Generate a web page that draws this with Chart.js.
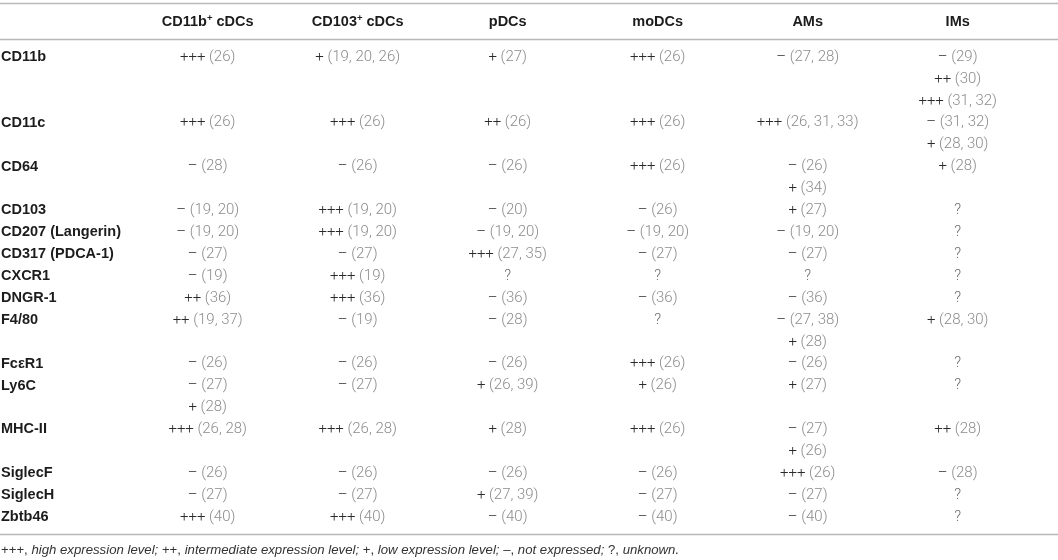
<!DOCTYPE html>
<html>
<head>
<meta charset="utf-8">
<script src="https://cdn.jsdelivr.net/npm/chart.js@4.4.1/dist/chart.umd.min.js"></script>
<style>
html,body{margin:0;padding:0;background:#ffffff;}
#wrap{width:1058px;height:560px;position:relative;}
</style>
</head>
<body>
<div id="wrap"><canvas id="c"></canvas></div>
<script>
// ---- data ----
const cellTypes = ["CD11b⁺ cDCs", "CD103⁺ cDCs", "pDCs", "moDCs", "AMs", "IMs"];
const markers = ["CD11b", "CD11c", "CD64", "CD103", "CD207 (Langerin)", "CD317 (PDCA-1)", "CXCR1", "DNGR-1", "F4/80", "FcεR1", "Ly6C", "MHC-II", "SiglecF", "SiglecH", "Zbtb46"];

const cd11bCDCs = [["+++ (26)"], ["+++ (26)"], ["– (28)"], ["– (19, 20)"], ["– (19, 20)"], ["– (27)"], ["– (19)"], ["++ (36)"], ["++ (19, 37)"], ["– (26)"], ["– (27)", "+ (28)"], ["+++ (26, 28)"], ["– (26)"], ["– (27)"], ["+++ (40)"]];
const cd103CDCs = [["+ (19, 20, 26)"], ["+++ (26)"], ["– (26)"], ["+++ (19, 20)"], ["+++ (19, 20)"], ["– (27)"], ["+++ (19)"], ["+++ (36)"], ["– (19)"], ["– (26)"], ["– (27)"], ["+++ (26, 28)"], ["– (26)"], ["– (27)"], ["+++ (40)"]];
const pDCs = [["+ (27)"], ["++ (26)"], ["– (26)"], ["– (20)"], ["– (19, 20)"], ["+++ (27, 35)"], ["?"], ["– (36)"], ["– (28)"], ["– (26)"], ["+ (26, 39)"], ["+ (28)"], ["– (26)"], ["+ (27, 39)"], ["– (40)"]];
const moDCs = [["+++ (26)"], ["+++ (26)"], ["+++ (26)"], ["– (26)"], ["– (19, 20)"], ["– (27)"], ["?"], ["– (36)"], ["?"], ["+++ (26)"], ["+ (26)"], ["+++ (26)"], ["– (26)"], ["– (27)"], ["– (40)"]];
const AMs = [["– (27, 28)"], ["+++ (26, 31, 33)"], ["– (26)", "+ (34)"], ["+ (27)"], ["– (19, 20)"], ["– (27)"], ["?"], ["– (36)"], ["– (27, 38)", "+ (28)"], ["– (26)"], ["+ (27)"], ["– (27)", "+ (26)"], ["+++ (26)"], ["– (27)"], ["– (40)"]];
const IMs = [["– (29)", "++ (30)", "+++ (31, 32)"], ["– (31, 32)", "+ (28, 30)"], ["+ (28)"], ["?"], ["?"], ["?"], ["?"], ["?"], ["+ (28, 30)"], ["?"], ["?"], ["++ (28)"], ["– (28)"], ["?"], ["?"]];

const legendSymbols = ["+++", "++", "+", "–", "?"];
const legendMeanings = ["high expression level", "intermediate expression level", "low expression level", "not expressed", "unknown"];

// ---- derived layout from data ----
const columns = [cd11bCDCs, cd103CDCs, pDCs, moDCs, AMs, IMs];
const rowLines = markers.map((m, r) => Math.max(...columns.map(col => col[r].length)));
const rowStart = [];
let acc = 0;
rowLines.forEach(n => { rowStart.push(acc); acc += n; });
const totalLines = acc;

const points = [];
columns.forEach((col, c) => col.forEach((entries, r) => entries.forEach((txt, k) => {
  points.push({ x: cellTypes[c], y: rowStart[r] + k, txt: txt });
})));

// ---- styles ----
const VALUE_FONT = '300 15px Roboto, "Liberation Sans", sans-serif';
const BOLD_FONT = 'bold 14.5px "Liberation Sans", Arial, sans-serif';
const SUP_FONT = 'bold 9.5px "Liberation Sans", Arial, sans-serif';
const FOOT_FONT = '13.2px "Liberation Sans", Arial, sans-serif';
const FOOT_ITALIC = 'italic 13.2px "Liberation Sans", Arial, sans-serif';
const SYM_COLOR = '#2a2a2a';
const REF_COLOR = '#8c8c8c';
const Q_COLOR = '#6e6e6e';
const HEAD_COLOR = '#1c1c1c';
const RULE_COLOR = '#b8b8b8';

function drawHeader(ctx, name, cx, cy) {
  const parts = name.split('⁺');
  if (parts.length === 1) {
    ctx.font = BOLD_FONT; ctx.textAlign = 'center';
    ctx.fillText(name, cx, cy);
    return;
  }
  ctx.font = BOLD_FONT;
  const w1 = ctx.measureText(parts[0]).width;
  const w3 = ctx.measureText(parts[1]).width;
  ctx.font = SUP_FONT;
  const w2 = ctx.measureText('+').width;
  let xx = cx - (w1 + w2 + w3) / 2;
  ctx.textAlign = 'left';
  ctx.font = BOLD_FONT; ctx.fillText(parts[0], xx, cy); xx += w1;
  ctx.font = SUP_FONT; ctx.fillText('+', xx, cy - 4); xx += w2;
  ctx.font = BOLD_FONT; ctx.fillText(parts[1], xx, cy);
}

function drawCell(ctx, txt, cx, cy) {
  ctx.font = VALUE_FONT;
  const sp = txt.indexOf(' ');
  if (sp < 0) {
    ctx.textAlign = 'center'; ctx.fillStyle = Q_COLOR;
    ctx.fillText(txt, cx, cy);
    return;
  }
  const sym = txt.slice(0, sp);
  const rest = txt.slice(sp);
  const w1 = ctx.measureText(sym).width;
  const w2 = ctx.measureText(rest).width;
  let xx = cx - (w1 + w2) / 2;
  ctx.textAlign = 'left';
  ctx.fillStyle = SYM_COLOR; ctx.fillText(sym, xx, cy);
  ctx.fillStyle = REF_COLOR; ctx.fillText(rest, xx + w1, cy);
}

const tablePlugin = {
  id: 'tablePlugin',
  afterDatasetsDraw(chart) {
    const ctx = chart.ctx;
    const a = chart.chartArea;
    const xs = chart.scales.x, ys = chart.scales.y;
    ctx.save();
    // horizontal rules
    ctx.strokeStyle = RULE_COLOR; ctx.lineWidth = 1.5;
    const rule = yy => { ctx.beginPath(); ctx.moveTo(0, yy); ctx.lineTo(chart.width, yy); ctx.stroke(); };
    rule(3.5);
    rule(a.top - 6.5);
    rule(a.bottom + 6.5);
    ctx.textBaseline = 'middle';
    // header
    ctx.fillStyle = HEAD_COLOR;
    cellTypes.forEach((name, i) => drawHeader(ctx, name, xs.getPixelForValue(i), 22));
    // row labels
    ctx.font = BOLD_FONT; ctx.textAlign = 'left'; ctx.fillStyle = HEAD_COLOR;
    markers.forEach((m, r) => ctx.fillText(m, 1, ys.getPixelForValue(rowStart[r])));
    // cells
    const meta = chart.getDatasetMeta(0);
    meta.data.forEach((el, i) => drawCell(ctx, points[i].txt, el.x, el.y));
    // footnote
    let fx = 1; const fy = 550;
    ctx.textAlign = 'left'; ctx.fillStyle = '#333333';
    legendSymbols.forEach((s, i) => {
      ctx.font = FOOT_FONT;
      const t1 = s + ',';
      ctx.fillText(t1, fx, fy); fx += ctx.measureText(t1).width;
      ctx.font = FOOT_ITALIC;
      const t2 = ' ' + legendMeanings[i] + (i === legendSymbols.length - 1 ? '.' : '; ');
      ctx.fillText(t2, fx, fy); fx += ctx.measureText(t2).width;
    });
    ctx.restore();
  }
};

new Chart(document.getElementById('c'), {
  type: 'scatter',
  data: {
    datasets: [{
      data: points.map(p => ({ x: p.x, y: p.y })),
      pointRadius: 0,
      pointHoverRadius: 0,
      showLine: false
    }]
  },
  options: {
    responsive: true,
    maintainAspectRatio: false,
    animation: false,
    events: [],
    layout: { padding: { left: 132.7, right: 25.3, top: 46, bottom: 32 } },
    plugins: { legend: { display: false }, tooltip: { enabled: false } },
    scales: {
      x: { type: 'category', labels: cellTypes, offset: true, display: false },
      y: { type: 'linear', reverse: true, min: -0.5, max: totalLines - 0.5, display: false }
    }
  },
  plugins: [tablePlugin]
});
</script>
</body>
</html>
